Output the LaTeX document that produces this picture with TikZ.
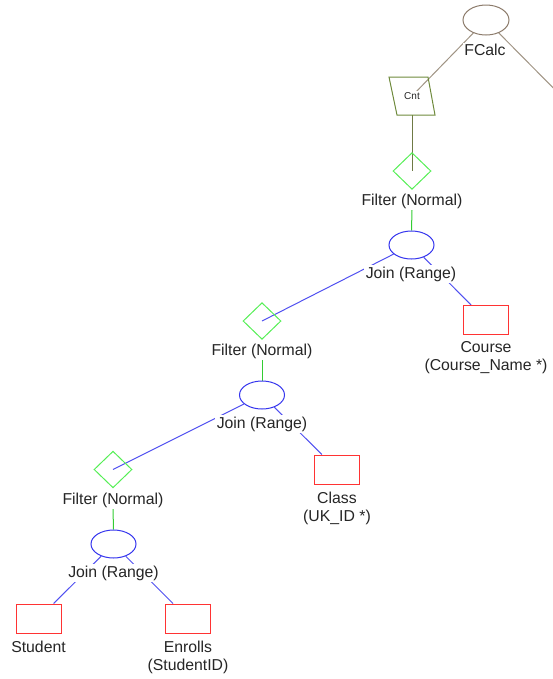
\documentclass[tikz,border=0pt]{standalone}
\usepackage{fontspec}
\setmainfont{Liberation Sans}
\usetikzlibrary{shapes.geometric}
\pgfdeclarelayer{edges}
\pgfsetlayers{edges,main}
\definecolor{fcbrown}{HTML}{8C7B6B}
\definecolor{fcline}{HTML}{A09484}
\definecolor{cntolive}{HTML}{6E8A3C}
\definecolor{cntline}{HTML}{6F7A45}
\definecolor{fgreen}{HTML}{55EE55}
\definecolor{gline}{HTML}{33CC33}
\definecolor{jblue}{HTML}{3535EE}
\definecolor{bline}{HTML}{5050F0}
\definecolor{tred}{HTML}{FF3333}
\tikzset{
  lbl/.style={fill=white, inner sep=1pt, font=\fontsize{11.85}{13.5}\selectfont, align=center, text=black!85},
  joinnode/.style={ellipse, draw=jblue, fill=white, line width=0.75pt, minimum width=33.75pt, minimum height=21pt, inner sep=0pt},
  filternode/.style={diamond, draw=fgreen, line width=0.75pt, minimum width=28.5pt, minimum height=27.5pt, inner sep=0pt},
  tablenode/.style={rectangle, draw=tred, fill=white, line width=0.75pt, minimum width=33.75pt, minimum height=21.75pt, inner sep=0pt},
  fcnode/.style={ellipse, draw=fcbrown, fill=white, line width=0.75pt, minimum width=34.5pt, minimum height=22.5pt, inner sep=0pt},
  bedge/.style={draw=bline, line width=0.75pt},
  gedge/.style={draw=gline, line width=0.75pt},
}
\begin{document}
\begin{tikzpicture}[x=0.75pt, y=-0.75pt]
\useasboundingbox (0,0) rectangle (553,679);
\clip (0,0) rectangle (553,679);
% FCalc
\node[fcnode] (fc) at (486,20) {};
\node[lbl] (fclab) at (485,50) {FCalc};
\coordinate (fcr) at (580,115);
% Cnt
\node[fill=white, inner sep=0.8pt, font=\fontsize{7.5}{8}\selectfont, text=black!85] (cnt) at (412,96) {Cnt};
\draw[cntolive, line width=0.75pt] (389,77) coordinate (cnttl) -- (428,77) -- (435,115) -- (397,115) coordinate (cntbl) -- cycle;
\coordinate (cntb) at (412,115);
% Filter 1 / Join 1
\node[filternode] (f1) at (412,171) {};
\node[lbl] (f1lab) at (412,201) {Filter (Normal)};
\node[joinnode] (j1) at (411.5,245) {};
\node[lbl] (j1lab) at (411,274) {Join (Range)};
\node[tablenode] (course) at (486,320) {};
\node[lbl] (courselab) at (486,358) {Course\\(Course\_Name *)};
% Filter 2 / Join 2
\node[filternode] (f2) at (262,321) {};
\node[lbl] (f2lab) at (262,351) {Filter (Normal)};
\node[joinnode] (j2) at (262,395) {};
\node[lbl] (j2lab) at (262,424) {Join (Range)};
\node[tablenode] (class) at (337,469.5) {};
\node[lbl] (classlab) at (337,508) {Class\\(UK\_ID *)};
% Filter 3 / Join 3
\node[filternode] (f3) at (113,469.5) {};
\node[lbl] (f3lab) at (113,500) {Filter (Normal)};
\node[joinnode] (j3) at (113.5,544) {};
\node[lbl] (j3lab) at (113.5,573) {Join (Range)};
\node[tablenode] (student) at (38.5,618.5) {};
\node[lbl] (studentlab) at (38.5,647) {Student};
\node[tablenode] (enrolls) at (188,618.5) {};
\node[lbl] (enrollslab) at (188,657) {Enrolls\\(StudentID)};
% edges
\begin{pgfonlayer}{edges}
\draw[fcline, line width=0.75pt] (fc) -- (cnt);
\draw[fcline, line width=0.75pt] (fc) -- (fcr);
\draw[cntline, line width=0.75pt] (cntb) -- (f1.center);
\draw[gedge] (f1lab.south) -- (j1.north);
\draw[bedge] (j1) -- (f2.center);
\draw[bedge] (j1) -- (course);
\draw[gedge] (f2lab.south) -- (j2.north);
\draw[bedge] (j2) -- (f3.center);
\draw[bedge] (j2) -- (class);
\draw[gedge] (f3lab.south) -- (j3.north);
\draw[bedge] (j3) -- (student);
\draw[bedge] (j3) -- (enrolls);
\end{pgfonlayer}
\end{tikzpicture}
\end{document}
